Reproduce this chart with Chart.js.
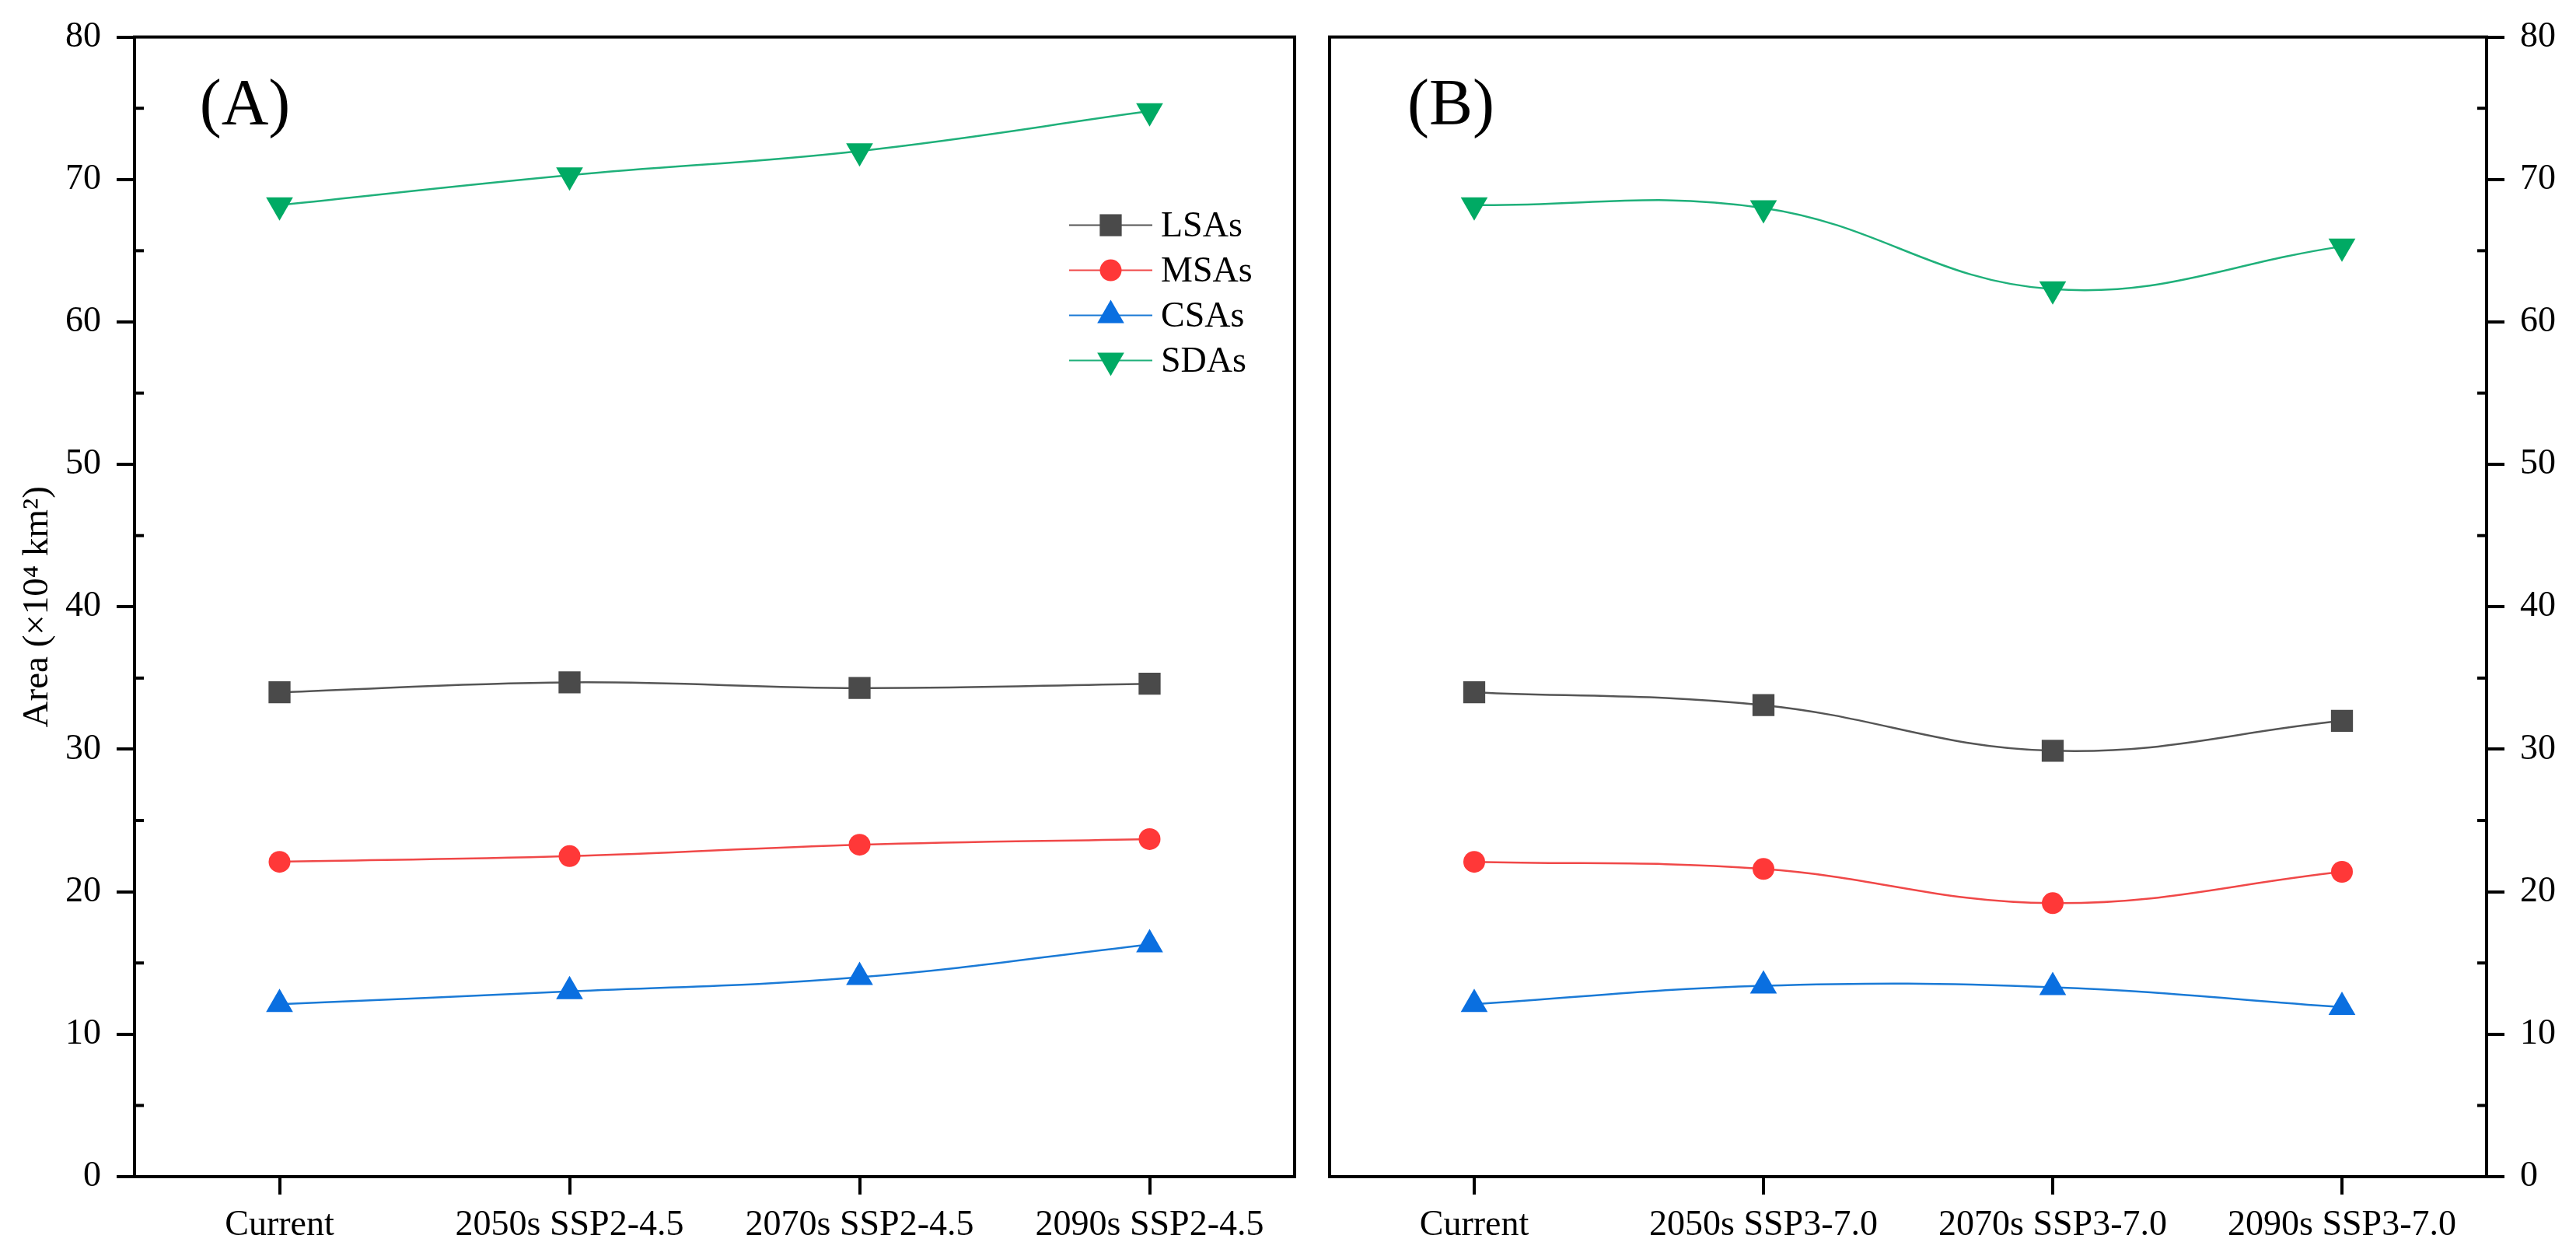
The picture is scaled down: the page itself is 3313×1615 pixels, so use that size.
<!DOCTYPE html>
<html>
<head>
<meta charset="utf-8">
<script src="https://cdn.jsdelivr.net/npm/chart.js@4.4.1/dist/chart.umd.min.js"></script>
<style>
  body { margin: 0; background: #fff; }
  #wrap { position: relative; width: 3313px; height: 1615px; }
  canvas { position: absolute; top: 0; }
  #chart-a { left: 0; }
  #chart-b { left: 1690px; }
</style>
</head>
<body>
<div id="wrap">
  <canvas id="chart-a" width="1690" height="1615"></canvas>
  <canvas id="chart-b" width="1623" height="1615"></canvas>
</div>
<script>
// data (area, x10^4 km2)
const SERIES_NAMES = ["LSAs", "MSAs", "CSAs", "SDAs"];
const CATEGORIES_A = ["Current", "2050s SSP2-4.5", "2070s SSP2-4.5", "2090s SSP2-4.5"];
const CATEGORIES_B = ["Current", "2050s SSP3-7.0", "2070s SSP3-7.0", "2090s SSP3-7.0"];

const LSAS_A = [34.0, 34.7, 34.3, 34.6];
const MSAS_A = [22.1, 22.5, 23.3, 23.7];
const CSAS_A = [12.1, 13.0, 14.0, 16.3];
const SDAS_A = [68.2, 70.3, 72.0, 74.8];

const LSAS_B = [34.0, 33.1, 29.9, 32.0];
const MSAS_B = [22.1, 21.6, 19.2, 21.4];
const CSAS_B = [12.1, 13.4, 13.3, 11.9];
const SDAS_B = [68.2, 68.0, 62.3, 65.3];

const Y_MIN = 0;
const Y_MAX = 80;
const Y_STEP = 10;
const Y_TITLE = "Area (×10⁴ km²)";

const FONT = "'Liberation Serif', 'Times New Roman', serif";
Chart.defaults.font.family = FONT;
Chart.defaults.color = "#000";

const STYLES = [
  { line: "#555555", fill: "#4a4a4a", pointStyle: "rect", radius: 20, rotation: 0 },
  { line: "#f04848", fill: "#ff3838", pointStyle: "circle", radius: 14, rotation: 0 },
  { line: "#1a7ad6", fill: "#0a6fe0", pointStyle: "triangle", radius: 20, rotation: 0 },
  { line: "#1fb07a", fill: "#00aa64", pointStyle: "triangle", radius: 20, rotation: 180 },
];

function makeDatasets(seriesValues) {
  return seriesValues.map((values, i) => {
    const s = STYLES[i];
    return {
      label: SERIES_NAMES[i],
      data: values,
      borderColor: s.line,
      borderWidth: 2.5,
      backgroundColor: s.fill,
      pointBackgroundColor: s.fill,
      pointBorderWidth: 0,
      pointStyle: s.pointStyle,
      pointRadius: s.radius,
      pointHoverRadius: s.radius,
      pointRotation: s.rotation,
      tension: 0.4,
      fill: false,
    };
  });
}

// box frame, inward minor ticks, panel letter and (optionally) legend
function framePlugin(letter, side, withLegend) {
  return {
    id: "frame" + letter,
    afterDraw(chart) {
      const ctx = chart.ctx;
      const area = chart.chartArea;
      const yScale = chart.scales.y;
      ctx.save();
      ctx.strokeStyle = "#000";
      ctx.lineWidth = 4;
      ctx.lineJoin = "miter";
      ctx.strokeRect(area.left, area.top, area.right - area.left, area.bottom - area.top);

      for (let v = Y_MIN + Y_STEP / 2; v < Y_MAX; v += Y_STEP) {
        const y = yScale.getPixelForValue(v);
        ctx.beginPath();
        if (side === "left") {
          ctx.moveTo(area.left, y);
          ctx.lineTo(area.left + 12, y);
        } else {
          ctx.moveTo(area.right, y);
          ctx.lineTo(area.right - 12, y);
        }
        ctx.stroke();
      }

      ctx.fillStyle = "#000";
      ctx.font = "84px " + FONT;
      ctx.textAlign = "center";
      ctx.textBaseline = "middle";
      const letterX = side === "left" ? area.left + 142 : area.left + 156;
      ctx.fillText("(" + letter + ")", letterX, area.top + 90);

      if (withLegend) {
        const x0 = area.left + 1202;
        const x1 = area.left + 1309;
        const xm = (x0 + x1) / 2;
        chart.data.datasets.forEach((ds, i) => {
          const s = STYLES[i];
          const y = area.top + 242 + i * 58;
          ctx.strokeStyle = s.line;
          ctx.lineWidth = 2;
          ctx.beginPath();
          ctx.moveTo(x0, y);
          ctx.lineTo(x1, y);
          ctx.stroke();
          ctx.fillStyle = s.fill;
          Chart.helpers.drawPoint(ctx, {
            pointStyle: s.pointStyle,
            radius: s.radius,
            rotation: s.rotation,
            borderWidth: 0,
          }, xm, y);
          ctx.fillStyle = "#000";
          ctx.font = "46px " + FONT;
          ctx.textAlign = "left";
          ctx.fillText(ds.label, x1 + 11, y + 2);
        });
      }
      ctx.restore();
    },
  };
}

function createPanel(canvasId, categories, seriesValues, letter, side) {
  const isLeft = side === "left";
  const config = {
    type: "line",
    data: {
      labels: categories,
      datasets: makeDatasets(seriesValues),
    },
    options: {
      responsive: false,
      animation: false,
      devicePixelRatio: 1,
      layout: {
        padding: isLeft
          ? { left: 0, right: 25, top: 43, bottom: 0 }
          : { left: 16, right: 0, top: 43, bottom: 0 },
      },
      plugins: {
        legend: { display: false },
        tooltip: { enabled: false },
      },
      scales: {
        x: {
          offset: true,
          border: { display: false },
          grid: {
            drawOnChartArea: false,
            drawTicks: true,
            tickLength: 23,
            lineWidth: 4,
            color: "#000",
          },
          ticks: {
            font: { size: 46 },
            padding: 12,
            maxRotation: 0,
            autoSkip: false,
          },
          afterFit(scale) {
            scale.height = 102;
          },
        },
        y: {
          position: side,
          min: Y_MIN,
          max: Y_MAX,
          border: { display: false },
          grid: {
            drawOnChartArea: false,
            drawTicks: true,
            tickLength: 23,
            lineWidth: 4,
            color: "#000",
          },
          ticks: {
            stepSize: Y_STEP,
            font: { size: 46 },
            padding: 20,
          },
          title: {
            display: isLeft,
            text: Y_TITLE,
            font: { size: 47 },
            padding: { top: 20, bottom: 0 },
          },
          afterFit(scale) {
            scale.width = isLeft ? 173 : 115;
          },
        },
      },
    },
    plugins: [framePlugin(letter, side, isLeft)],
  };
  const ctx = document.getElementById(canvasId).getContext("2d");
  return new Chart(ctx, config);
}

createPanel("chart-a", CATEGORIES_A, [LSAS_A, MSAS_A, CSAS_A, SDAS_A], "A", "left");
createPanel("chart-b", CATEGORIES_B, [LSAS_B, MSAS_B, CSAS_B, SDAS_B], "B", "right");
</script>
</body>
</html>
